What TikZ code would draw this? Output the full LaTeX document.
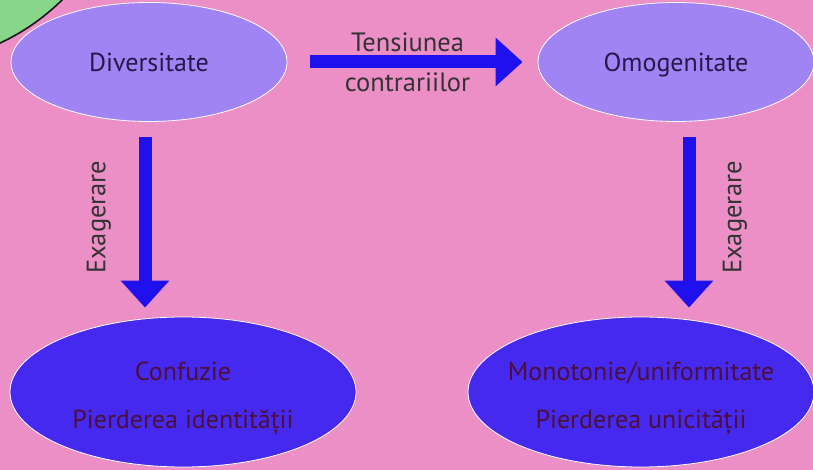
\documentclass[tikz,border=0pt]{standalone}
\usepackage{fontspec}
\setmainfont{PT Sans}
\usetikzlibrary{shapes.geometric,arrows.meta,positioning}
\definecolor{pinkbg}{RGB}{235,143,198}
\definecolor{lilac}{RGB}{161,132,244}
\definecolor{deepblue}{RGB}{69,41,238}
\definecolor{arrowblue}{RGB}{31,16,238}
\definecolor{leafgreen}{RGB}{136,214,138}
\definecolor{navytext}{RGB}{38,24,75}
\definecolor{wine}{RGB}{75,15,58}

\begin{document}
\begin{tikzpicture}[x=1pt, y=1pt, node distance=527pt]
\tikzstyle{upperell}=[ellipse, fill=lilac, draw=white, line width=0.8pt, inner sep=0pt, minimum width=276pt, minimum height=119pt, text=navytext, text depth=0pt, font=\fontsize{26}{30}\selectfont]
\tikzstyle{lowerell}=[ellipse, fill=deepblue, draw=white, line width=0.8pt, inner xsep=-40pt, inner ysep=0pt, minimum width=346pt, minimum height=150pt, align=center, text=wine, text height=79pt, font=\fontsize{26}{48}\selectfont]
\tikzstyle{bigarrow}=[draw=arrowblue, line width=13pt, -{Triangle[width=47pt, length=27pt]}]
\tikzstyle{lbl}=[text=black!80, font=\fontsize{26.5}{30}\selectfont]
\clip (0,0) rectangle (813,470);
\fill[pinkbg] (0,0) rectangle (813,470);
% green shape cut by the corner
\draw[fill=leafgreen, draw=black!90, line width=1.6pt] (-92.5,626.6) circle (220);
\node[upperell]  (div)  at (149,408)   {Diversitate};
\node[upperell]  (omo)  [right of=div]  {Omogenitate};
\node[lowerell]  (conf) at (183,78)    {Confuzie\\Pierderea identității};
\node[lowerell]  (mono) [right of=conf, node distance=458pt] {Monotonie/uniformitate\\Pierderea unicității};
\path[bigarrow, shorten <=23pt, shorten >=15pt]
(div.east) -- node[lbl, yshift=20pt, xshift=-5pt]{Tensiunea}
              node[lbl, yshift=-20pt, xshift=-5pt]{contrariilor} (omo.west);
\path[bigarrow, shorten <=15pt, shorten >=9pt]
([xshift=-4pt]div.south) -- node[lbl, xshift=-46pt, yshift=2pt, rotate=90]{Exagerare} ([xshift=-4pt]div.south |- conf.north);
\path[bigarrow, shorten <=15pt, shorten >=9pt]
([xshift=13pt]omo.south) -- node[lbl, xshift=46pt, yshift=2pt, rotate=90]{Exagerare} ([xshift=13pt]omo.south |- mono.north);
\end{tikzpicture}
\end{document}
